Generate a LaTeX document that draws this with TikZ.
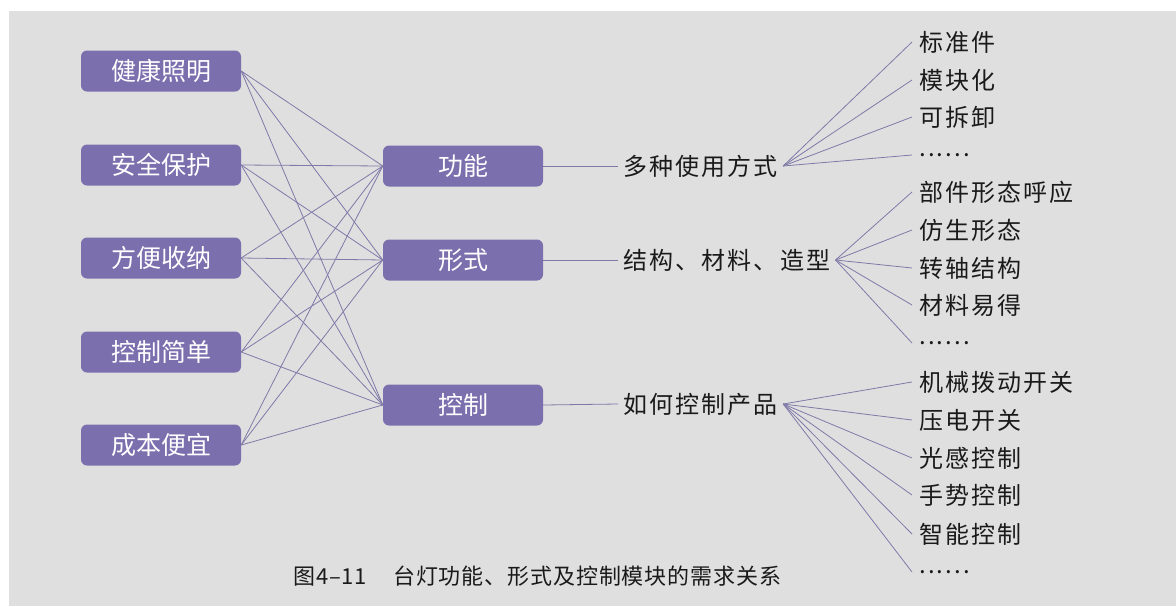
\documentclass[tikz,border=0pt]{standalone}
\usepackage{fontspec}
\newfontfamily\cjk{Noto Sans CJK SC}
\newfontfamily\cjkw[LetterSpace=9]{Noto Sans CJK SC}
\newfontfamily\cjkc[LetterSpace=4]{Noto Sans CJK SC}
\definecolor{bgc}{HTML}{DFDFDF}
\definecolor{boxc}{HTML}{7B6FAE}
\definecolor{linec}{HTML}{7F7AA8}
\definecolor{txtc}{HTML}{1A1A1A}
\begin{document}
\begin{tikzpicture}[x=1pt,y=-1pt,
  pbox/.style={fill=boxc, rounded corners=6pt, minimum width=160pt, minimum height=41pt,
    text=white, font=\cjk\fontsize{25}{30}\selectfont, inner sep=0pt},
  conn/.style={draw=linec, line width=0.8pt},
  midtext/.style={anchor=west, inner xsep=5pt, inner ysep=0pt, text=txtc,
    font=\cjkw\fontsize{24}{28}\selectfont},
  itemtext/.style={anchor=west, inner xsep=7pt, inner ysep=0pt, text=txtc,
    font=\cjkw\fontsize{24}{28}\selectfont}]
\useasboundingbox (0,0) rectangle (1176,606);
\fill[white] (0,0) rectangle (1176,606);
\fill[bgc] (9,11) rectangle (1176,606);
% left boxes
\node[pbox] (l1) at (161,71) {健康照明};
\node[pbox] (l2) at (161,165) {安全保护};
\node[pbox] (l3) at (161,258) {方便收纳};
\node[pbox] (l4) at (161,352) {控制简单};
\node[pbox] (l5) at (161,445) {成本便宜};
% middle boxes
\node[pbox] (m1) at (463,166) {功能};
\node[pbox] (m2) at (463,260) {形式};
\node[pbox] (m3) at (463,405) {控制};
\foreach \a in {l1,l2,l3,l4,l5}
  \foreach \b in {m1,m2,m3}
    \draw[conn] (\a.east) -- (\b.west);
% middle texts
\node[midtext] (t1) at (618,166) {多种使用方式};
\node[midtext] (t2) at (618,260) {结构、材料、造型};
\node[midtext] (t3) at (618,404) {如何控制产品};
\draw[conn] (m1.east) -- (t1.west);
\draw[conn] (m2.east) -- (t2.west);
\draw[conn] (m3.east) -- (t3.west);
% items of fan 1
\node[itemtext] (a1) at (912,42) {标准件};
\node[itemtext] (a2) at (912,80) {模块化};
\node[itemtext] (a3) at (912,117) {可拆卸};
\node[itemtext] (a4) at (912,155) {......};
% items of fan 2
\node[itemtext] (b1) at (912,192) {部件形态呼应};
\node[itemtext] (b2) at (912,230) {仿生形态};
\node[itemtext] (b3) at (912,268) {转轴结构};
\node[itemtext] (b4) at (912,305) {材料易得};
\node[itemtext] (b5) at (912,343) {......};
% items of fan 3
\node[itemtext] (c1) at (912,382) {机械拨动开关};
\node[itemtext] (c2) at (912,420) {压电开关};
\node[itemtext] (c3) at (912,458) {光感控制};
\node[itemtext] (c4) at (912,495) {手势控制};
\node[itemtext] (c5) at (912,534) {智能控制};
\node[itemtext] (c6) at (912,572) {......};
\foreach \i in {a1,a2,a3,a4} \draw[conn] (t1.east) -- (\i.west);
\foreach \i in {b1,b2,b3,b4,b5} \draw[conn] (t2.east) -- (\i.west);
\foreach \i in {c1,c2,c3,c4,c5,c6} \draw[conn] (t3.east) -- (\i.west);
% caption
\node[anchor=west, inner sep=0pt, text=txtc, font=\cjkc\fontsize{22}{26}\selectfont] (cap) at (293,576)
  {图4–11\hspace{26pt}台灯功能、形式及控制模块的需求关系};
\end{tikzpicture}
\end{document}
